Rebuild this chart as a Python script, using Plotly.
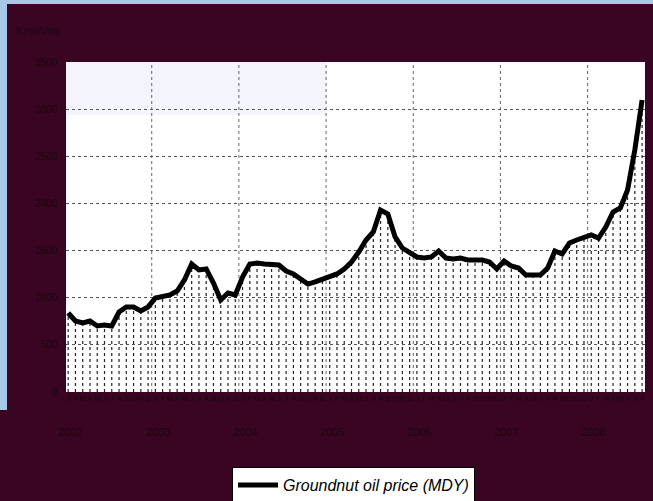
import plotly.graph_objects as go

# ---- data ----
years = ["2002", "2003", "2004", "2005", "2006", "2007", "2008"]
month_letters = ["J", "F", "M", "A", "M", "J", "J", "A", "S", "O", "N", "D"]
price = [838, 753, 732, 753, 700, 711, 700, 848, 902, 902, 859, 902,
         997, 1018, 1029, 1071, 1188, 1358, 1294, 1305, 1156, 976, 1050, 1029,
         1220, 1358, 1368, 1358, 1347, 1347, 1283, 1252, 1198, 1145, 1167, 1198,
         1220, 1252, 1305, 1379, 1485, 1612, 1697, 1930, 1888, 1644, 1527, 1474,
         1432, 1421, 1432, 1495, 1421, 1411, 1421, 1400, 1400, 1400, 1379, 1305,
         1389, 1336, 1315, 1241, 1241, 1241, 1315, 1495, 1464, 1580, 1612, 1644,
         1665, 1633, 1750, 1909, 1952, 2142, 2567, 3097]
y_ticks = [0, 500, 1000, 1500, 2000, 2500, 3000, 3500]
series_name = "Groundnut oil price (MDY)"
y_title = "Kyat/viss"

months = list(range(len(price)))
month_text = [month_letters[m % 12] for m in months]

MAROON = "#3a0522"
DARKTXT = "#1a0610"

# drop lines from axis to each monthly value
dx, dy = [], []
for m, v in zip(months, price):
    dx += [m, m, None]
    dy += [0, v, None]

fig = go.Figure()
fig.add_trace(go.Scatter(x=dx, y=dy, mode="lines",
                         line=dict(color="#222222", width=1.2, dash="dot"),
                         showlegend=False, hoverinfo="skip"))
fig.add_trace(go.Scatter(x=months, y=price, mode="lines", name=series_name,
                         line=dict(color="black", width=5)))

# year labels under the month row
for i, yr in enumerate(years):
    fig.add_annotation(x=i * 12 + 0.3, y=0, xref="x", yref="paper", yshift=-40,
                       text=yr, showarrow=False, xanchor="center", yanchor="middle",
                       font=dict(size=11, color=DARKTXT, family="Liberation Sans"))

fig.add_annotation(x=-52 / 579, y=1 + 32 / 330, xref="paper", yref="paper", text=y_title,
                   showarrow=False, xanchor="left", yanchor="middle",
                   font=dict(size=11, color=DARKTXT, family="Liberation Sans"))

# light blue window edges
fig.add_shape(type="rect", xref="paper", yref="paper",
              x0=-66 / 579, x1=-59 / 579, y0=-18 / 330, y1=1 + 62 / 330,
              fillcolor="#a9c8e8", line_width=0, layer="below")
fig.add_shape(type="rect", xref="paper", yref="paper",
              x0=-66 / 579, x1=1 + 8 / 579, y0=1 + 58 / 330, y1=1 + 62 / 330,
              fillcolor="#a9c8e8", line_width=0, layer="below")
# faint tint at top of plot area
fig.add_shape(type="rect", xref="paper", yref="paper",
              x0=0, x1=0.45, y0=0.84, y1=1,
              fillcolor="rgba(200,205,240,0.22)", line_width=0, layer="below")

fig.update_layout(
    width=653, height=501,
    margin=dict(l=66, r=8, t=62, b=109, autoexpand=False),
    paper_bgcolor=MAROON, plot_bgcolor="white",
    font=dict(family="Liberation Sans", color=DARKTXT, size=10),
    showlegend=True,
    legend=dict(x=(232 - 66) / 579, y=-(467 - 392) / 330, xanchor="left", yanchor="top",
                bgcolor="white", bordercolor="black", borderwidth=1,
                font=dict(size=16, color="black", family="Liberation Sans", style="italic"),
                itemwidth=40, tracegroupgap=0),
    xaxis=dict(range=[-0.3, len(price) - 0.6], tickmode="array", tickvals=months,
               ticktext=month_text, tickfont=dict(size=8, color=DARKTXT),
               tickangle=0, ticks="", showgrid=False, zeroline=False,
               showline=False),
    yaxis=dict(range=[0, 3500], tickvals=y_ticks, showgrid=True,
               gridcolor="#555555", griddash="dot", gridwidth=1,
               zeroline=False, tickfont=dict(size=10, color=DARKTXT),
               ticks="", showline=False, ticklabelstandoff=8),
)

# vertical year gridlines
for i in range(1, len(years)):
    fig.add_vline(x=i * 12 - 0.5, line=dict(color="#666666", width=1, dash="dot"),
                  layer="below")

fig.write_html("out.html", config={"displayModeBar": False},
               post_script="document.body.style.margin='0';document.body.style.overflow='hidden';")
